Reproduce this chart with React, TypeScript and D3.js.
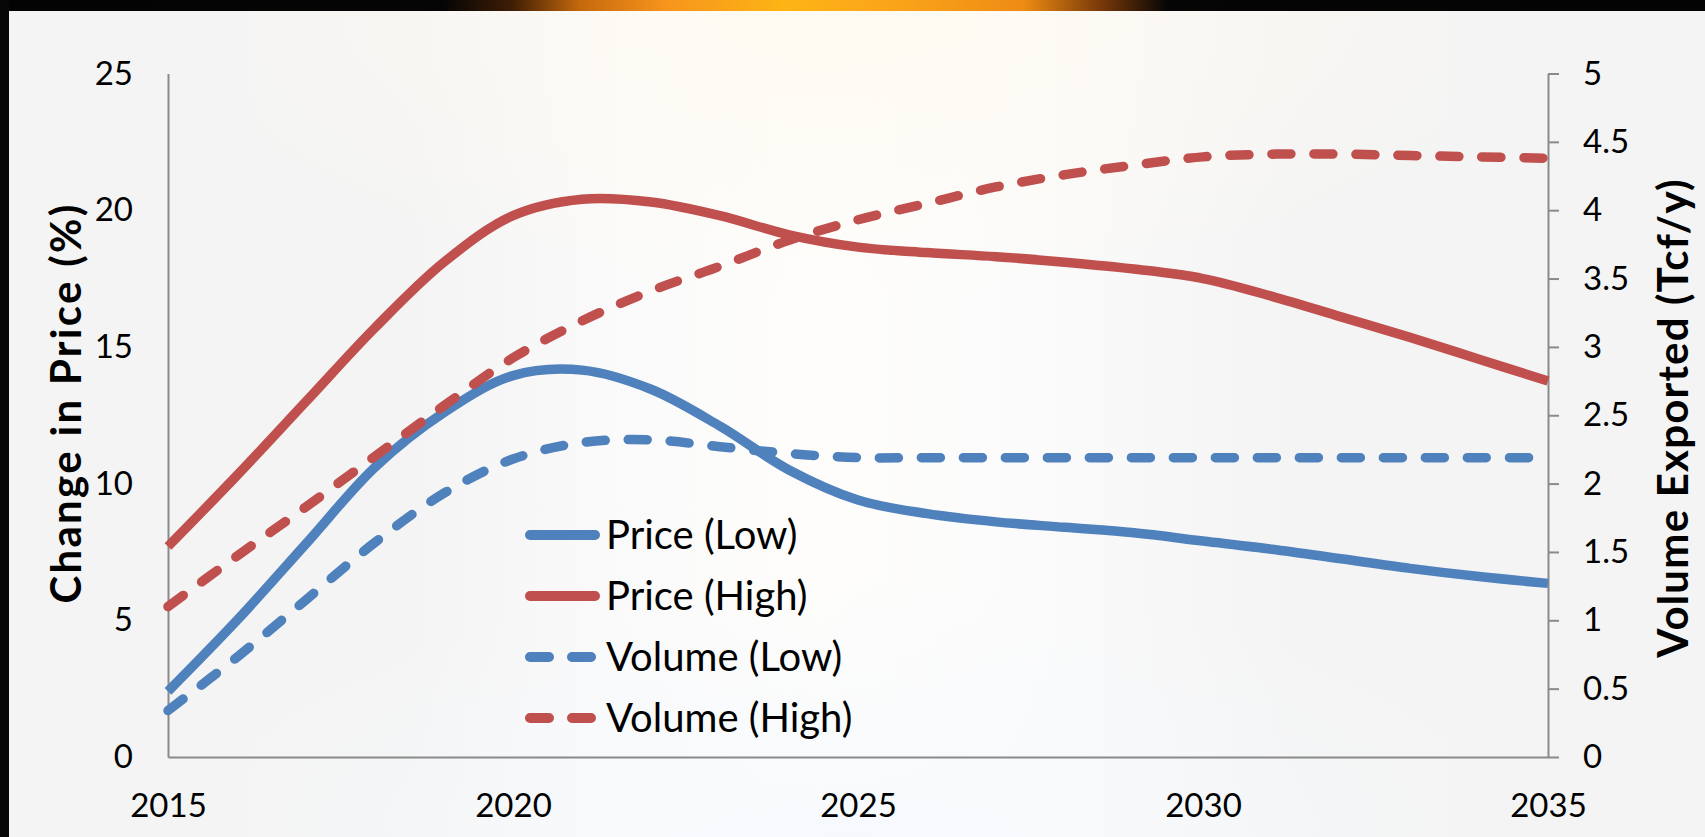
import React, { useRef, useEffect } from "react";
import * as d3 from "d3";

const years = [
  2015, 2016, 2017, 2018, 2019, 2020, 2021, 2022, 2023, 2024, 2025, 2026, 2027,
  2028, 2029, 2030, 2031, 2032, 2033, 2034, 2035,
];

// change in price (%), left axis
const priceLow = [
  2.4, 5.0, 7.8, 10.6, 12.6, 13.95, 14.15, 13.45, 12.1, 10.5, 9.4, 8.9, 8.6,
  8.4, 8.2, 7.9, 7.6, 7.25, 6.9, 6.6, 6.35,
];
const priceHigh = [
  7.7, 10.3, 13.0, 15.7, 18.1, 19.8, 20.4, 20.3, 19.8, 19.1, 18.65, 18.45,
  18.3, 18.1, 17.85, 17.5, 16.85, 16.1, 15.35, 14.55, 13.75,
];

// volume exported (Tcf/y), right axis
const volumeLow = [
  0.34, 0.73, 1.15, 1.57, 1.93, 2.18, 2.3, 2.32, 2.27, 2.22, 2.19, 2.19, 2.19,
  2.19, 2.19, 2.19, 2.19, 2.19, 2.19, 2.19, 2.19,
];
const volumeHigh = [
  1.1, 1.47, 1.83, 2.2, 2.57, 2.92, 3.19, 3.41, 3.59, 3.78, 3.93, 4.05, 4.17,
  4.26, 4.33, 4.39, 4.41, 4.41, 4.4, 4.39, 4.38,
];

const xTicks = [2015, 2020, 2025, 2030, 2035];
const leftTicks = [0, 5, 10, 15, 20, 25];
const rightTicks = [0, 0.5, 1, 1.5, 2, 2.5, 3, 3.5, 4, 4.5, 5];
const rightTickLabels = ["0", "0.5", "1", "1.5", "2", "2.5", "3", "3.5", "4", "4.5", "5"];

const legendLabels = ["Price (Low)", "Price (High)", "Volume (Low)", "Volume (High)"];

const W = 1705;
const H = 837;
const plot = { left: 168, right: 1548, top: 73.5, bottom: 757 };

const BLUE = "#4F81BD";
const RED = "#C0504D";
const AXIS = "#8a8a8a";
const FONT = "Lato, 'Open Sans', sans-serif";
const DASH = "19 23";
const LW = 9.5;

const App = () => {
  const ref = useRef<SVGSVGElement>(null);

  useEffect(() => {
    document.body.style.margin = "0";
    const svg = d3.select(ref.current);
    svg.selectAll("*").remove();

    const defs = svg.append("defs");

    // light band in the middle of the slide
    const band = defs
      .append("linearGradient")
      .attr("id", "band")
      .attr("x1", 0)
      .attr("x2", 1)
      .attr("y1", 0)
      .attr("y2", 0);
    [
      [0, "#f4f4f4"],
      [0.24, "#f4f4f4"],
      [0.36, "#fafafa"],
      [0.48, "#fefdfb"],
      [0.6, "#fbfbfb"],
      [0.76, "#f4f4f4"],
      [1, "#f4f4f4"],
    ].forEach(([o, c]) => band.append("stop").attr("offset", o).attr("stop-color", c));

    const warm = defs
      .append("radialGradient")
      .attr("id", "warm")
      .attr("cx", 0.5)
      .attr("cy", 0)
      .attr("r", 0.6);
    warm.append("stop").attr("offset", 0).attr("stop-color", "#fffaf0").attr("stop-opacity", 0.9);
    warm.append("stop").attr("offset", 1).attr("stop-color", "#fffaf0").attr("stop-opacity", 0);

    const cool = defs
      .append("radialGradient")
      .attr("id", "cool")
      .attr("cx", 0.5)
      .attr("cy", 1)
      .attr("r", 0.6);
    cool.append("stop").attr("offset", 0).attr("stop-color", "#f6f9fd").attr("stop-opacity", 0.9);
    cool.append("stop").attr("offset", 1).attr("stop-color", "#f6f9fd").attr("stop-opacity", 0);

    // orange glow in the black strip at the top
    const glow = defs
      .append("linearGradient")
      .attr("id", "glow")
      .attr("x1", 0)
      .attr("x2", 1)
      .attr("y1", 0)
      .attr("y2", 0);
    [
      [0, "#030303"],
      [0.26, "#050505"],
      [0.3, "#3e1d05"],
      [0.34, "#c4690c"],
      [0.39, "#f7941d"],
      [0.46, "#fdb414"],
      [0.52, "#fba51a"],
      [0.6, "#ee8c14"],
      [0.645, "#7a3a08"],
      [0.685, "#050505"],
      [1, "#030303"],
    ].forEach(([o, c]) => glow.append("stop").attr("offset", o).attr("stop-color", c));

    svg.append("rect").attr("width", W).attr("height", H).attr("fill", "url(#band)");
    svg
      .append("rect")
      .attr("x", 250)
      .attr("width", 1200)
      .attr("height", 500)
      .attr("fill", "url(#warm)");
    svg
      .append("rect")
      .attr("x", 250)
      .attr("y", 400)
      .attr("width", 1200)
      .attr("height", 437)
      .attr("fill", "url(#cool)");
    svg.append("rect").attr("width", W).attr("height", 11).attr("fill", "url(#glow)");
    svg.append("rect").attr("width", 9).attr("height", H).attr("fill", "#060606");

    const x = d3.scaleLinear().domain([2015, 2035]).range([plot.left, plot.right]);
    const yL = d3.scaleLinear().domain([0, 25]).range([plot.bottom, plot.top]);
    const yR = d3.scaleLinear().domain([0, 5]).range([plot.bottom, plot.top]);

    // axes
    const leftAxis = svg
      .append("g")
      .attr("transform", `translate(${plot.left},0)`)
      .call(d3.axisLeft(yL).tickValues(leftTicks).tickSize(0).tickSizeOuter(0).tickPadding(35));

    const rightAxis = svg
      .append("g")
      .attr("transform", `translate(${plot.right},0)`)
      .call(
        d3
          .axisRight(yR)
          .tickValues(rightTicks)
          .tickFormat((d, i) => rightTickLabels[i])
          .tickSize(11)
          .tickSizeOuter(0)
          .tickPadding(24)
      );

    const bottomAxis = svg
      .append("g")
      .attr("transform", `translate(0,${plot.bottom})`)
      .call(
        d3
          .axisBottom(x)
          .tickValues(xTicks)
          .tickFormat(d3.format("d"))
          .tickSize(0)
          .tickSizeOuter(0)
          .tickPadding(37)
      );

    [leftAxis, rightAxis, bottomAxis].forEach((g) => {
      g.attr("font-family", FONT).attr("font-size", 33);
      g.select(".domain").attr("stroke", AXIS).attr("stroke-width", 2);
      g.selectAll(".tick line").attr("stroke", AXIS).attr("stroke-width", 2);
      g.selectAll(".tick text").attr("fill", "#000");
    });

    // axis titles (baseline on the right side of the rotated text)
    svg
      .append("text")
      .attr("transform", `translate(81,403) rotate(-90)`)
      .attr("text-anchor", "middle")
      .attr("font-family", FONT)
      .attr("font-weight", "bold")
      .attr("font-size", 42)
      .attr("letter-spacing", 2.3)
      .attr("fill", "#000")
      .text("Change in Price (%)");

    svg
      .append("text")
      .attr("transform", `translate(1688,418) rotate(-90)`)
      .attr("text-anchor", "middle")
      .attr("font-family", FONT)
      .attr("font-weight", "bold")
      .attr("font-size", 42)
      .attr("letter-spacing", 1.2)
      .attr("fill", "#000")
      .text("Volume Exported (Tcf/y)");

    // series
    const series = [
      { values: priceLow, scale: yL, color: BLUE, dashed: false },
      { values: priceHigh, scale: yL, color: RED, dashed: false },
      { values: volumeLow, scale: yR, color: BLUE, dashed: true },
      { values: volumeHigh, scale: yR, color: RED, dashed: true },
    ];

    series.forEach((s) => {
      const line = d3
        .line<number>()
        .x((d, i) => x(years[i]))
        .y((d) => s.scale(d))
        .curve(d3.curveCatmullRom.alpha(0.5));
      svg
        .append("path")
        .attr("d", line(s.values))
        .attr("fill", "none")
        .attr("stroke", s.color)
        .attr("stroke-width", LW)
        .attr("stroke-linecap", s.dashed ? "round" : "butt")
        .attr("stroke-dasharray", s.dashed ? DASH : null);
    });

    // legend
    const legend = svg.append("g");
    const rowY = d3.scalePoint<number>().domain([0, 1, 2, 3]).range([535, 718]);
    series.forEach((s, i) => {
      const yy = rowY(i) as number;
      legend
        .append("line")
        .attr("x1", 530)
        .attr("x2", 595)
        .attr("y1", yy)
        .attr("y2", yy)
        .attr("stroke", s.color)
        .attr("stroke-width", LW + 0.5)
        .attr("stroke-linecap", "round")
        .attr("stroke-dasharray", s.dashed ? DASH : null);
      legend
        .append("text")
        .attr("x", 606)
        .attr("y", yy)
        .attr("dy", "0.36em")
        .attr("font-family", FONT)
        .attr("font-size", 40)
        .attr("fill", "#000")
        .text(legendLabels[i]);
    });

    return () => undefined;
  }, []);

  return <svg ref={ref} width={W} height={H} style={{ display: "block" }}></svg>;
};

export default App;
